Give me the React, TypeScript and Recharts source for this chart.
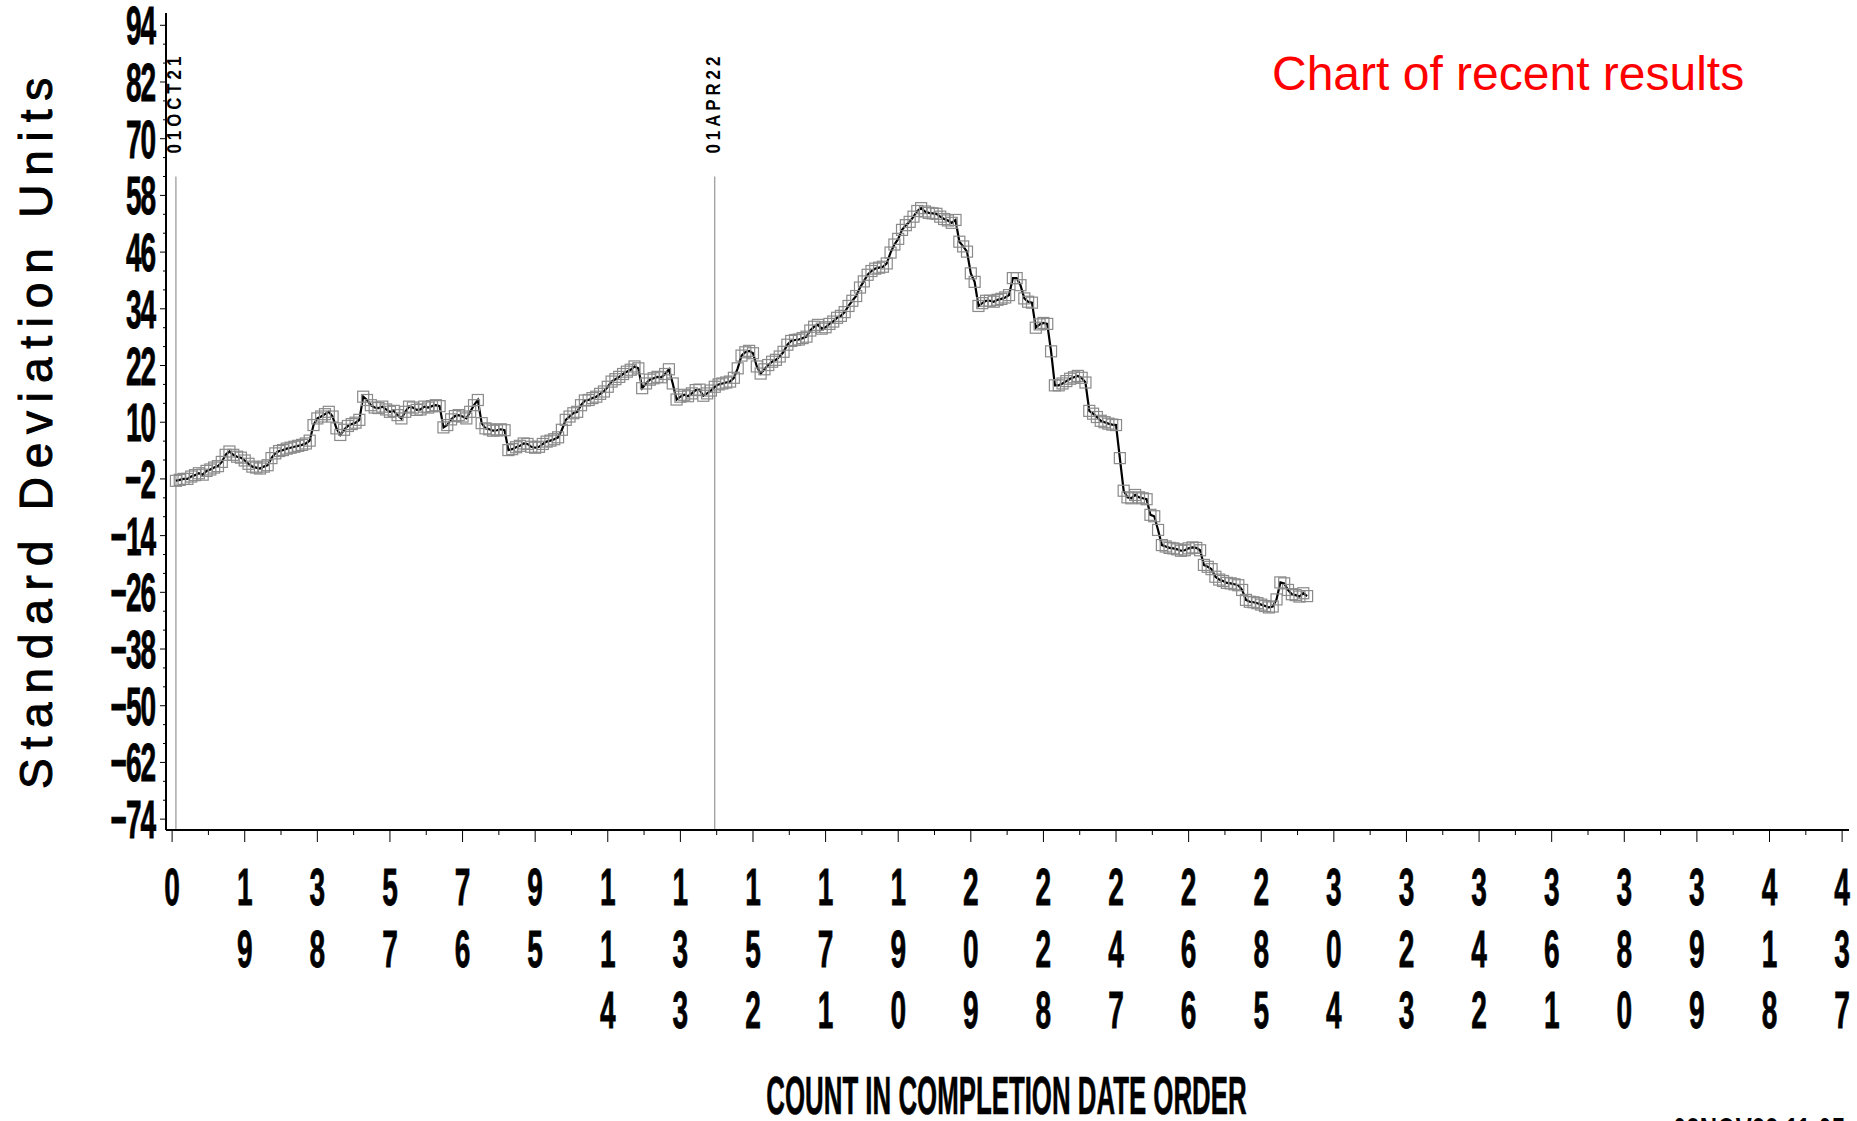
import React from 'react';
import { LineChart, Line, XAxis, YAxis, ReferenceLine } from 'recharts';

// ---------- data ----------
const firstCount = 1;
const sdUnits = [
  -2.4, -2.2, -2.0, -2.0, -1.5, -1.2, -0.8, -1.1, -0.3, 0.0,
  0.4, 0.7, 1.6, 3.1, 3.8, 3.1, 2.7, 2.5, 1.9, 1.2,
  0.6, 0.4, 0.2, 0.6, 0.9, 2.4, 3.4, 3.9, 4.1, 4.4,
  4.6, 4.8, 5.0, 5.2, 5.5, 6.1, 9.4, 10.8, 11.2, 11.7,
  12.2, 11.2, 8.7, 7.3, 8.4, 9.2, 9.6, 9.9, 10.5, 15.4,
  14.7, 13.6, 13.1, 13.0, 13.3, 12.7, 12.2, 12.4, 11.5, 10.8,
  12.2, 13.3, 13.1, 12.6, 12.7, 13.3, 13.1, 13.4, 13.6, 13.4,
  8.9, 9.4, 10.6, 11.3, 11.5, 11.2, 10.8, 12.2, 13.6, 14.7,
  9.8, 8.7, 8.5, 8.2, 8.3, 8.5, 8.3, 4.1, 4.3, 4.7,
  5.0, 5.5, 5.4, 4.8, 4.6, 4.8, 5.4, 5.9, 6.1, 6.4,
  6.8, 8.4, 10.5, 11.2, 11.9, 12.2, 13.6, 14.6, 14.7, 15.1,
  15.4, 16.0, 16.5, 17.5, 18.6, 19.1, 19.6, 20.2, 20.7, 21.1,
  21.8, 21.4, 17.2, 18.2, 19.0, 19.3, 19.6, 19.5, 20.2, 21.2,
  18.2, 14.8, 15.4, 15.8, 15.5, 16.1, 16.8, 16.9, 15.6, 16.1,
  16.7, 17.5, 18.0, 18.2, 18.4, 18.6, 19.4, 21.4, 24.1, 24.8,
  25.1, 24.6, 21.8, 20.3, 21.2, 22.1, 22.8, 23.2, 23.9, 24.9,
  26.4, 27.2, 27.4, 27.5, 27.8, 28.1, 29.4, 30.2, 30.6, 29.8,
  30.1, 30.8, 31.3, 32.1, 32.5, 33.3, 34.6, 35.7, 36.7, 38.5,
  39.8, 41.2, 42.0, 42.5, 42.7, 42.9, 43.6, 45.9, 47.6, 48.8,
  50.7, 51.7, 52.4, 53.5, 54.7, 55.3, 54.6, 54.3, 54.2, 54.1,
  53.5, 53.0, 52.7, 52.2, 52.8, 48.2, 47.2, 46.1, 41.5, 39.7,
  34.6, 35.2, 35.7, 35.7, 35.5, 35.9, 36.1, 36.4, 36.9, 40.5,
  40.5, 39.0, 36.2, 35.5, 35.3, 30.0, 30.7, 31.0, 30.8, 25.0,
  17.8, 17.8, 18.2, 18.7, 19.2, 19.5, 19.8, 19.4, 18.4, 12.4,
  11.8, 11.1, 10.3, 10.0, 9.7, 9.5, 9.4, 2.4, -4.5, -5.9,
  -6.1, -5.4, -5.9, -6.1, -6.3, -9.6, -9.9, -12.8, -16.0, -16.3,
  -16.6, -16.7, -16.9, -17.2, -17.1, -16.7, -16.5, -16.6, -17.1, -20.2,
  -20.6, -21.1, -22.7, -23.3, -23.6, -24.0, -24.1, -24.3, -24.5, -25.5,
  -27.6, -28.0, -28.1, -28.3, -28.6, -28.9, -29.2, -29.0, -27.5, -23.9,
  -24.1, -25.5, -26.4, -26.6, -26.9, -26.2, -26.8,
];

const xMajorTicks = [0, 19, 38, 57, 76, 95, 114, 133, 152, 171, 190, 209, 228, 247, 266, 285, 304, 323, 342, 361, 380, 399, 418, 437];
const xMinorTicks = [9.5, 28.5, 47.5, 66.5, 85.5, 104.5, 123.5, 142.5, 161.5, 180.5, 199.5, 218.5, 237.5, 256.5, 275.5, 294.5, 313.5, 332.5, 351.5, 370.5, 389.5, 408.5, 427.5];
const yMajorTicks = [-74, -62, -50, -38, -26, -14, -2, 10, 22, 34, 46, 58, 70, 82, 94];
const yMinorTicks = [-70, -66, -58, -54, -46, -42, -34, -30, -22, -18, -10, -6, 2, 6, 14, 18, 26, 30, 38, 42, 50, 54, 62, 66, 74, 78, 86, 90];
const xDomain = [-1.6, 438.8];
const yDomain = [-76.3, 96.6];

const markerCounts = [1, 142];
const markerLabels = ['01OCT21', '01APR22'];
const markerTop = 62;

const titleText = 'Chart of recent results';
const yTitle = 'Standard Deviation Units';
const xTitle = 'COUNT IN COMPLETION DATE ORDER';
const stampText = '03NOV22 11:05';

const chartData = sdUnits.map((v, k) => ({ n: firstCount + k, v }));
const allXTicks = [...xMajorTicks, ...xMinorTicks].sort((a, b) => a - b);
const allYTicks = [...yMajorTicks, ...yMinorTicks].sort((a, b) => a - b);

const FONT = '"Liberation Sans", Arial, Helvetica, sans-serif';

// ---------- custom pieces ----------
function XTick(props: any) {
  const { x, y, payload } = props;
  const v = payload.value;
  const major = xMajorTicks.includes(v);
  return (
    <g>
      <line x1={x} y1={y} x2={x} y2={y + (major ? 12 : 5)} stroke="#000" strokeWidth={1} />
      {major &&
        String(v)
          .split('')
          .map((d, k) => (
            <text
              key={k}
              transform={`translate(${x},${y + 75 + k * 61.5}) scale(0.54,1)`}
              textAnchor="middle"
              fontFamily={FONT}
              fontWeight="bold"
              fontSize={52}
              fill="#000"
              stroke="#000"
              strokeWidth={0.8}
            >
              {d}
            </text>
          ))}
    </g>
  );
}

function YTick(props: any) {
  const { x, y, payload } = props;
  const v = payload.value;
  const major = yMajorTicks.includes(v);
  const label = v < 0 ? '\u2212' + Math.abs(v) : String(v);
  return (
    <g>
      <line x1={x - (major ? 6 : 3)} y1={y} x2={x} y2={y} stroke="#000" strokeWidth={1} />
      {major && (
        <text
          transform={`translate(${x - 11},${y + 19}) scale(0.53,1)`}
          textAnchor="end"
          fontFamily={FONT}
          fontWeight="bold"
          fontSize={53}
          letterSpacing={-2}
          fill="#000"
          stroke="#000"
          strokeWidth={0.8}
        >
          {label}
        </text>
      )}
    </g>
  );
}

function SquareDot(props: any) {
  const { cx, cy, index } = props;
  if (cx == null || cy == null) return <g key={index} />;
  return (
    <rect
      key={index}
      x={cx - 5.5}
      y={cy - 5.5}
      width={11}
      height={11}
      fill="none"
      stroke="#8a8a8a"
      strokeWidth={1.2}
    />
  );
}

function MarkerLabel(props: any) {
  const { viewBox, text } = props;
  if (!viewBox) return null;
  const { x, y } = viewBox;
  return (
    <text
      transform={`translate(${x + 5},${y - 23}) rotate(-90) scale(0.8,1)`}
      textAnchor="start"
      fontFamily={FONT}
      fontWeight="bold"
      fontSize={21}
      letterSpacing={5}
      fill="#000"
    >
      {text}
    </text>
  );
}

export default function App() {
  return (
    <div
      style={{
        position: 'absolute',
        left: 0,
        top: 0,
        width: 1857,
        height: 1121,
        overflow: 'hidden',
        background: '#fff',
      }}
    >
      <LineChart
        width={1857}
        height={1121}
        data={chartData}
        margin={{ top: 13, right: 8, bottom: 0, left: 0 }}
      >
        <XAxis
          dataKey="n"
          type="number"
          domain={xDomain}
          allowDataOverflow
          ticks={allXTicks}
          interval={0}
          height={291}
          tickSize={0}
          tickMargin={0}
          tickLine={false}
          axisLine={{ stroke: '#000', strokeWidth: 2 }}
          tick={(p: any) => <XTick {...p} />}
        />
        <YAxis
          type="number"
          domain={yDomain}
          allowDataOverflow
          ticks={allYTicks}
          interval={0}
          width={166}
          tickSize={0}
          tickMargin={0}
          tickLine={false}
          axisLine={{ stroke: '#000', strokeWidth: 2 }}
          tick={(p: any) => <YTick {...p} />}
        />
        {markerCounts.map((c, k) => (
          <ReferenceLine
            key={c}
            segment={[
              { x: c, y: markerTop },
              { x: c, y: yDomain[0] },
            ]}
            stroke="#808080"
            strokeWidth={1}
            ifOverflow="visible"
            label={<MarkerLabel text={markerLabels[k]} />}
          />
        ))}
        <Line
          type="linear"
          dataKey="v"
          stroke="#000"
          strokeWidth={2.2}
          dot={(p: any) => <SquareDot {...p} />}
          activeDot={false}
          isAnimationActive={false}
        />
      </LineChart>
      <svg
        width={1857}
        height={1121}
        style={{ position: 'absolute', left: 0, top: 0, pointerEvents: 'none' }}
      >
        <text x={1272} y={90} fontFamily={FONT} fontSize={48} fill="#ff0000">
          {titleText}
        </text>
        <text
          transform="translate(52,429) rotate(-90)"
          textAnchor="middle"
          fontFamily={FONT}
          fontSize={46}
          letterSpacing={8.8}
          fill="#000"
          stroke="#000"
          strokeWidth={1}
        >
          {yTitle}
        </text>
        <text
          transform="translate(1006.5,1114) scale(0.483,1)"
          textAnchor="middle"
          fontFamily={FONT}
          fontWeight="bold"
          fontSize={53.5}
          fill="#000"
          stroke="#000"
          strokeWidth={0.6}
        >
          {xTitle}
        </text>
        <text
          transform="translate(1673,1146) scale(0.6,1)"
          fontFamily={FONT}
          fontWeight="bold"
          fontSize={40}
          fill="#000"
        >
          {stampText}
        </text>
      </svg>
    </div>
  );
}
